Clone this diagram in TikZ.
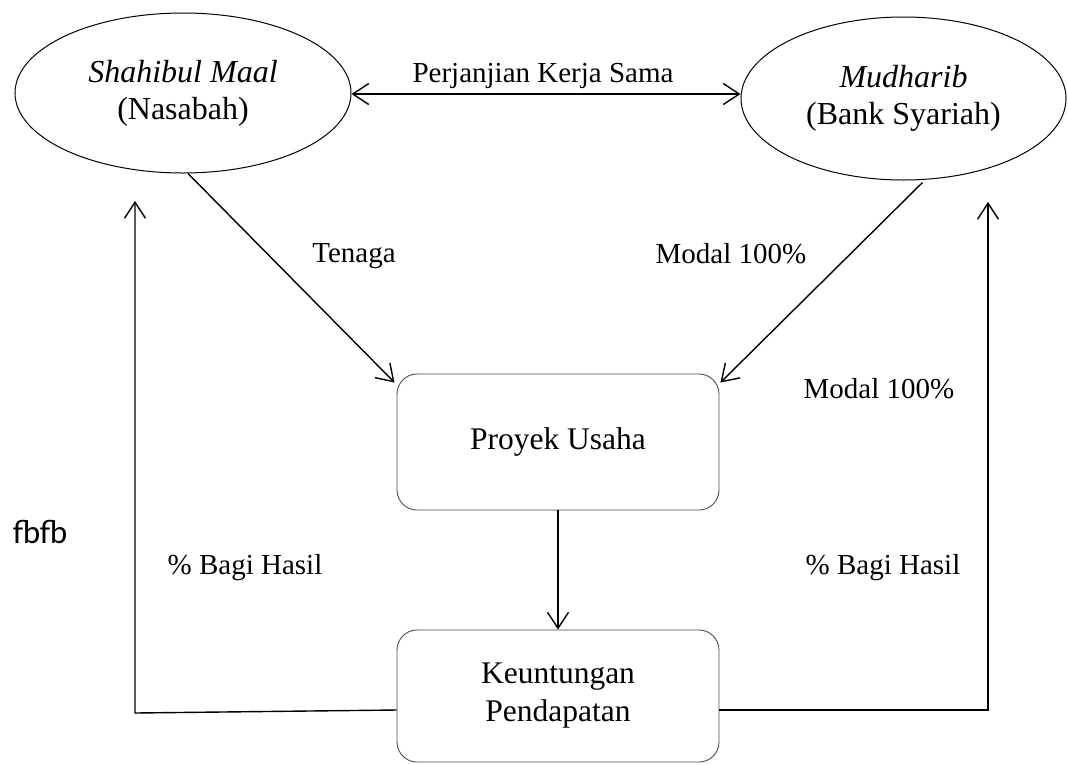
\documentclass[tikz,border=0pt]{standalone}
\usepackage{fontspec}
\setmainfont{Liberation Serif}
\newfontfamily\fbfont{Carlito}
\usetikzlibrary{shapes.geometric,arrows.meta,calc}
\begin{document}
\begin{tikzpicture}[x=1pt,y=-1pt,
  ell/.style={draw, ellipse, line width=1pt, inner sep=0pt, align=center, font=\fontsize{32}{37}\selectfont},
  box/.style={draw=black!70, rounded corners=20pt, line width=0.9pt, minimum width=322pt, align=center, font=\fontsize{31.5}{38}\selectfont},
  lbl/.style={font=\fontsize{29}{33}\selectfont, inner sep=0pt},
  tip/.tip={Straight Barb[length=16pt,width=21pt,line width=1.4pt]},
  conn/.style={line width=1.4pt, -tip},
]
\useasboundingbox (0,0) rectangle (1068,764);

\node[ell, minimum width=336pt, minimum height=160pt] (A) at (183,93) {\textit{Shahibul Maal}\\(Nasabah)};
\node[ell, minimum width=325pt, minimum height=163pt] (B) at (903.5,98.5) {\textit{Mudharib}\\(Bank Syariah)};
\node[box, minimum height=136pt] (P) at (558,442) {Proyek Usaha};
\node[box, minimum height=132pt] (K) at (558,696) {Keuntungan\\Pendapatan};

\coordinate (Lb) at (135,713);
\coordinate (Lt) at (135,201);
\coordinate (Rb) at (988,710);
\coordinate (Rt) at (988,202);

\draw[line width=1.4pt, tip-tip] ($(A.east)+(0,1)$) -- ($(A.east -| B.west)+(0,1)$);
\draw[conn] ($(A.south)+(5,0)$) -- ($(P.north west)+(-2,9)$);
\draw[conn] ($(B.south)+(19,2)$) -- ($(P.north east)+(1,9)$);
\draw[conn] (P.south) -- (K.north);
\draw[conn] ($(K.west)+(0,14)$) -- (Lb) -- (Lt);
\draw[conn] ($(K.east)+(0,14)$) -- (Rb) -- (Rt);

\node[lbl] (l1) at (543,76) {Perjanjian Kerja Sama};
\node[lbl] (l2) at (354,256) {Tenaga};
\node[lbl] (l3) at (731,254) {Modal 100\%};
\node[lbl] (l4) at (879,389) {Modal 100\%};
\node[lbl] (l5) at (245,568) {\% Bagi Hasil};
\node[lbl] (l6) at (883,568) {\% Bagi Hasil};
\node[font=\fbfont\fontsize{33}{40}\selectfont, inner sep=0pt] (fb) at (40,532) {fbfb};
\end{tikzpicture}
\end{document}
